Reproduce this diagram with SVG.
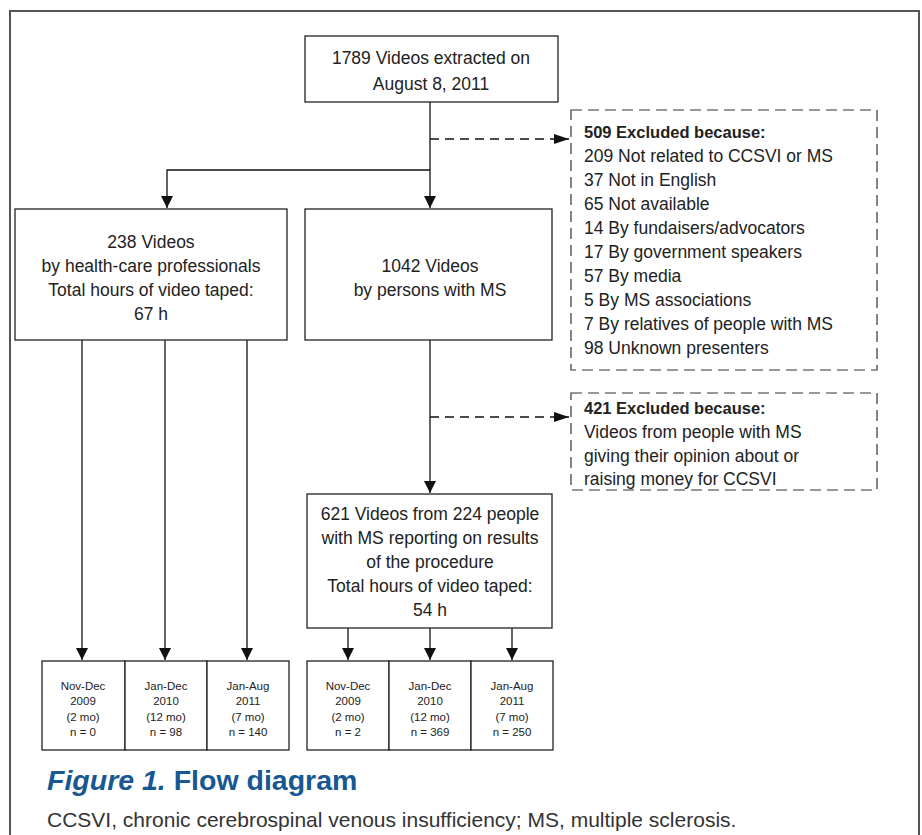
<svg xmlns="http://www.w3.org/2000/svg" width="922" height="835" viewBox="0 0 922 835">
<defs>
<style>
.box{fill:#fff;stroke:#222;stroke-width:1.3}
.dbox{fill:#fff;stroke:#333;stroke-width:1.2;stroke-dasharray:11 6}
.ln{fill:none;stroke:#111;stroke-width:1.3}
.dl{fill:none;stroke:#111;stroke-width:1.3;stroke-dasharray:9 6}
text{font-family:"Liberation Sans",Arial,sans-serif;fill:#222}
.t{font-size:17.5px;text-anchor:middle}
.l{font-size:17.5px}
.b{font-weight:bold;font-size:16.5px}
.s{font-size:11.5px;text-anchor:middle}
.cap{font-size:28.5px;font-weight:bold;fill:#175892}
.sub{font-size:21px;fill:#333}
</style>
<marker id="ah" markerWidth="12" markerHeight="12" viewBox="0 0 12 12" refX="12" refY="6" orient="auto" markerUnits="userSpaceOnUse">
<path d="M0,0 L12,6 L0,12 z" fill="#111"/>
</marker>
<marker id="ahd" markerWidth="15" markerHeight="12" viewBox="0 0 15 12" refX="15" refY="6" orient="auto" markerUnits="userSpaceOnUse">
<path d="M0,1 L15,6 L0,11 z" fill="#111"/>
</marker>
</defs>
<rect x="10" y="11" width="909" height="840" fill="#fff" stroke="#555" stroke-width="2"/>

<g id="connectors">
<path class="ln" d="M430,102 V208" marker-end="url(#ah)"/>
<path class="ln" d="M430,170 H167 V208" marker-end="url(#ah)"/>
<path class="dl" d="M430,139 H569" marker-end="url(#ahd)"/>
<path class="ln" d="M430,340 V493" marker-end="url(#ah)"/>
<path class="dl" d="M430,417 H569" marker-end="url(#ahd)"/>
<path class="ln" d="M82,340 V660" marker-end="url(#ah)"/>
<path class="ln" d="M165,340 V660" marker-end="url(#ah)"/>
<path class="ln" d="M247,340 V660" marker-end="url(#ah)"/>
<path class="ln" d="M348,628 V660" marker-end="url(#ah)"/>
<path class="ln" d="M430,628 V660" marker-end="url(#ah)"/>
<path class="ln" d="M512,628 V660" marker-end="url(#ah)"/>
</g>

<g id="n-top">
<rect class="box" x="305" y="36" width="253" height="66"/>
<text class="t" x="431" y="64">1789 Videos extracted on</text>
<text class="t" x="431" y="90">August 8, 2011</text>
</g>

<g id="n-excl1">
<rect class="dbox" x="571" y="110" width="306" height="260"/>
<text class="l b" x="584" y="138">509 Excluded because:</text>
<text class="l" x="584" y="162">209 Not related to CCSVI or MS</text>
<text class="l" x="584" y="186">37 Not in English</text>
<text class="l" x="584" y="210">65 Not available</text>
<text class="l" x="584" y="234">14 By fundaisers/advocators</text>
<text class="l" x="584" y="258">17 By government speakers</text>
<text class="l" x="584" y="282">57 By media</text>
<text class="l" x="584" y="306">5 By MS associations</text>
<text class="l" x="584" y="330">7 By relatives of people with MS</text>
<text class="l" x="584" y="354">98 Unknown presenters</text>
</g>

<g id="n-hcp">
<rect class="box" x="15" y="209" width="272" height="131"/>
<text class="t" x="151" y="248">238 Videos</text>
<text class="t" x="151" y="272">by health-care professionals</text>
<text class="t" x="151" y="296">Total hours of video taped:</text>
<text class="t" x="151" y="320">67 h</text>
</g>

<g id="n-ms">
<rect class="box" x="305" y="209" width="247" height="131"/>
<text class="t" x="430" y="272">1042 Videos</text>
<text class="t" x="430" y="296">by persons with MS</text>
</g>

<g id="n-excl2">
<rect class="dbox" x="571" y="393" width="306" height="97"/>
<text class="l b" x="584" y="414">421 Excluded because:</text>
<text class="l" x="584" y="438">Videos from people with MS</text>
<text class="l" x="584" y="462">giving their opinion about or</text>
<text class="l" x="584" y="485">raising money for CCSVI</text>
</g>

<g id="n-621">
<rect class="box" x="307" y="494" width="245" height="134"/>
<text class="t" x="430" y="520">621 Videos from 224 people</text>
<text class="t" x="430" y="544">with MS reporting on results</text>
<text class="t" x="430" y="568">of the procedure</text>
<text class="t" x="430" y="592">Total hours of video taped:</text>
<text class="t" x="430" y="616">54 h</text>
</g>

<g id="n-hcp-periods">
<rect class="box" x="42" y="661" width="83" height="89"/>
<rect class="box" x="125" y="661" width="82" height="89"/>
<rect class="box" x="207" y="661" width="82" height="89"/>
<text class="s" x="83" y="690">Nov-Dec</text><text class="s" x="83" y="705">2009</text><text class="s" x="83" y="721">(2 mo)</text><text class="s" x="83" y="736">n = 0</text>
<text class="s" x="166" y="690">Jan-Dec</text><text class="s" x="166" y="705">2010</text><text class="s" x="166" y="721">(12 mo)</text><text class="s" x="166" y="736">n = 98</text>
<text class="s" x="248" y="690">Jan-Aug</text><text class="s" x="248" y="705">2011</text><text class="s" x="248" y="721">(7 mo)</text><text class="s" x="248" y="736">n = 140</text>
</g>

<g id="n-ms-periods">
<rect class="box" x="307" y="661" width="82" height="89"/>
<rect class="box" x="389" y="661" width="82" height="89"/>
<rect class="box" x="471" y="661" width="82" height="89"/>
<text class="s" x="348" y="690">Nov-Dec</text><text class="s" x="348" y="705">2009</text><text class="s" x="348" y="721">(2 mo)</text><text class="s" x="348" y="736">n = 2</text>
<text class="s" x="430" y="690">Jan-Dec</text><text class="s" x="430" y="705">2010</text><text class="s" x="430" y="721">(12 mo)</text><text class="s" x="430" y="736">n = 369</text>
<text class="s" x="512" y="690">Jan-Aug</text><text class="s" x="512" y="705">2011</text><text class="s" x="512" y="721">(7 mo)</text><text class="s" x="512" y="736">n = 250</text>
</g>

<text class="cap" x="47" y="790"><tspan font-style="italic">Figure 1.</tspan> Flow diagram</text>
<text class="sub" x="47" y="827">CCSVI, chronic cerebrospinal venous insufficiency; MS, multiple sclerosis.</text>
</svg>
